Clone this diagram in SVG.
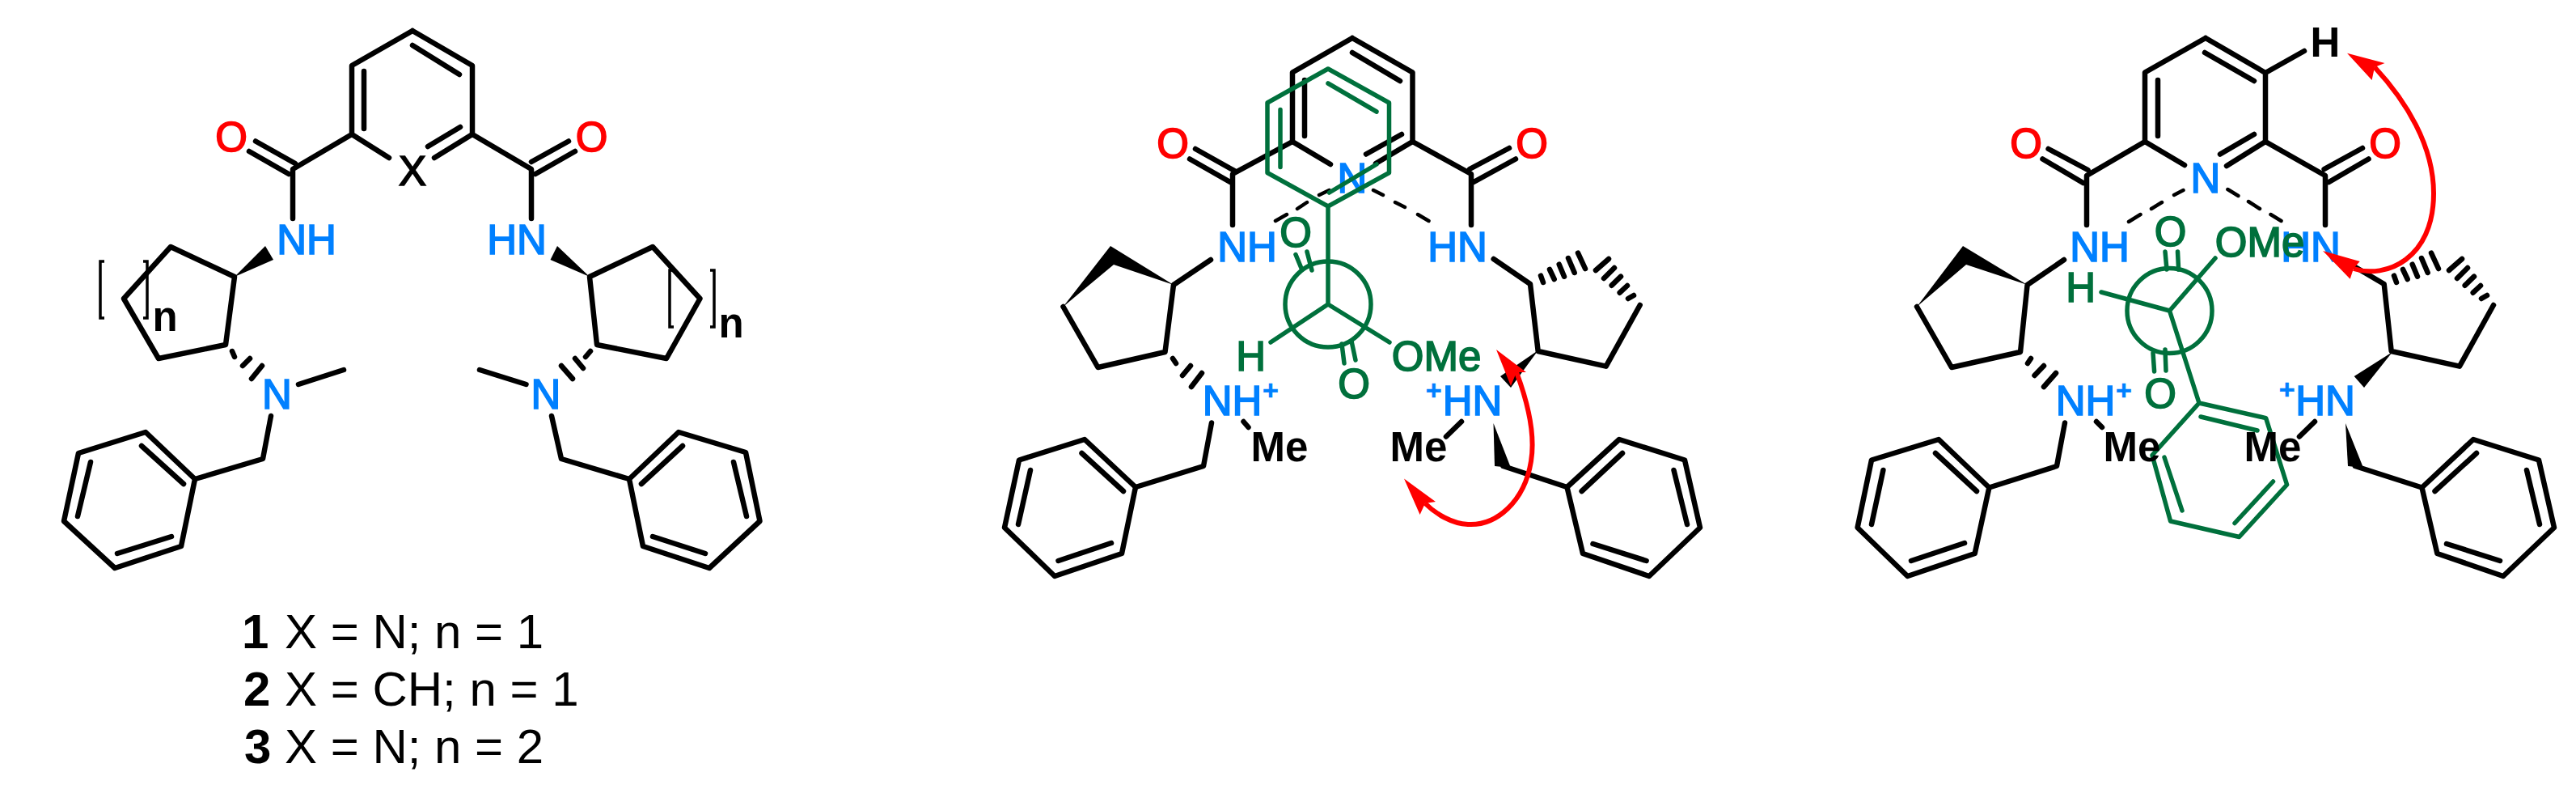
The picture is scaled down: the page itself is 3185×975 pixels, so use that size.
<svg xmlns="http://www.w3.org/2000/svg" width="3185" height="975" viewBox="0 0 3185 975">
<style>
text{font-family:"Liberation Sans",Arial,sans-serif;font-size:51px;text-anchor:middle}
.k{fill:none;stroke:#000;stroke-width:6.5;stroke-linecap:round;stroke-linejoin:round}
.d{fill:none;stroke:#000;stroke-width:4.5;stroke-linecap:round}
.g{fill:none;stroke:#00703C;stroke-width:5.5;stroke-linecap:round;stroke-linejoin:round}
.r{fill:none;stroke:#F00;stroke-width:6}
.w{fill:#000;stroke:none}
.rh{fill:#F00;stroke:none}
.tn{fill:#0080FF;stroke:#0080FF;stroke-width:1.7}
.to{fill:#F00;stroke:#F00;stroke-width:1.7}
.tg{fill:#00703C;stroke:#00703C;stroke-width:1.7}
.tk{fill:#000;font-weight:bold}
.tx{fill:#000;stroke:#000;stroke-width:1.7}
.pl{font-size:34px;font-weight:bold;stroke-width:.5}
.br{fill:none;stroke:#000;stroke-width:3.5}
.cap{font-size:60px;text-anchor:start;fill:#000}
</style>
<rect width="3185" height="975" fill="#fff"/>

<g id="compound-general">
<path class="k" d="M510,38L435,81L435,166L481,195M450,88L450,159M510,38L584,81L584,166L537,195M510,56L568,92M569,157L529,181M435,166L362,209L362,270M316,174.5L365,202M308,187L357,215M584,166L657,209L657,270M703,174.5L657,200M711,187L662,215"/>
<path class="w" d="M290,342L328,304L338,321Z"/>
<path class="k" d="M290,342L211,305L153,369L196,443L279,426Z"/>
<path class="k" d="M290,441L287,434M300,452L309,443M311,468L324,452M369,475L425,457M335,514L325,567L241,592"/>
<path class="k" d="M241,592L180,534L97,560L79,644L142,702L224,675ZM227,598L175,551M112,571L96,638M145,684L212,663"/>
<path class="w" d="M729,342L689,304L680.5,321Z"/>
<path class="k" d="M729,342L807,305L865.5,369L824,443L738,426Z"/>
<path class="k" d="M730,434L724,441M721,455L711,443M708,468L694,452M650.5,475L593,457M682,514L694,567L778,592"/>
<path class="k" d="M778,592L839,534L922,559L939.5,644L877,702L795,675ZM793,598L844,551M907,571L923,638M807,663L872,684"/>
<path class="br" d="M129,323H124V393H129M177,323H182V393H177M833,334H828V404H833M878,334H883V404H878"/>
<text class="to" x="286" y="187">O</text>
<text class="to" x="731.5" y="187">O</text>
<text class="tx" x="510" y="229">X</text>
<text class="tn" x="379" y="314">NH</text>
<text class="tn" x="639" y="314">HN</text>
<text class="tn" x="342.5" y="505">N</text>
<text class="tn" x="675" y="505">N</text>
<text class="tk" x="204" y="409">n</text>
<text class="tk" x="904" y="417">n</text>
</g>

<g id="caption">
<text class="cap" x="299" y="801"><tspan font-weight="bold">1</tspan><tspan x="352">X = N; n = 1</tspan></text>
<text class="cap" x="301" y="872"><tspan font-weight="bold">2</tspan><tspan x="352">X = CH; n = 1</tspan></text>
<text class="cap" x="302" y="943"><tspan font-weight="bold">3</tspan><tspan x="352">X = N; n = 2</tspan></text>
</g>

<g id="complex-left">
<path class="k" d="M1672,47L1598,89.5L1598,175L1645,203M1613,99L1613,168M1672,47L1746.5,89.5L1746.5,175L1701,202M1672,65L1731,100M1733,166L1689,190.5"/>
<path class="k" d="M1598,175L1524,215L1524,278M1478,184L1528,212M1471,196.5L1521,225M1746.5,175L1819,215L1819,278M1866,183L1817,209M1874,196.5L1822,225"/>
<path class="d" d="M1643.5,235L1631,241M1616,250L1604,258M1591,265L1577,273M1698,235L1710,241M1725,250L1737,256M1753,265L1766.5,273"/>
<path class="k" d="M1497,321L1451,352L1440.5,435L1357.5,454L1314.5,379M1454,449L1450,443M1462,464L1472,452M1473,478L1486,461M1537.5,521L1543.5,528M1498,522.5L1488,576L1404,602"/>
<path class="w" d="M1451,352L1373,304L1314.5,379L1377,327Z"/>
<path class="k" d="M1404,602L1341,543L1260,568.5L1242,652L1304,712L1387,684ZM1389,607L1337.5,560M1274,581L1259,648M1308.5,693L1374,671"/>
<path class="k" d="M1846.7,320L1892,351L1901.7,434L1985.7,452.7L2027.7,377M1905,340.7L1908,349M1916,333L1921.7,345M1927.7,326.7L1934,341.7M1939,319L1946.7,337M1951,312.7L1960,332M1989,320L1973,334M1996,331L1983,344M2004,341.7L1992.7,352.7M2012,353L2002.7,361.7M2020,365L2013,369"/>
<path class="w" d="M1901.7,433L1855,465L1868,479Z"/>
<path class="k" d="M1807,521L1788,539.5M1858.6,576L1937.5,602"/>
<path class="w" d="M1846.5,523L1848,576L1868,578Z"/>
<path class="k" d="M1937.5,602L2002,543L2083,568.5L2102,652L2039,712L1957,684ZM1955.6,607L2006,560M2069.5,581L2086,648M1969.5,672L2035.6,693"/>
<text class="to" x="1450" y="195">O</text>
<text class="to" x="1894" y="195">O</text>
<text class="tn" x="1672" y="238">N</text>
<text class="tn" x="1542" y="323">NH</text>
<text class="tn" x="1802" y="323">HN</text>
<text class="tn" x="1523.5" y="513">NH</text>
<text class="tn" x="1820.5" y="513">HN</text>
<text class="tn pl" x="1571" y="494">+</text>
<text class="tn pl" x="1772.6" y="494">+</text>
<text class="tk" x="1582" y="570">Me</text>
<text class="tk" x="1754" y="570">Me</text>
<g id="guest-left">
<path class="g" d="M1642,85L1567,127L1567,213.5L1642,255L1717.5,213.5L1717.5,127ZM1583,135.5L1583,206.6M1642,103L1702,138M1702,203L1643.5,238M1642,255L1642,376M1571,423L1642,376L1718,423M1602,314.5L1609,331.5M1616,311L1622,334M1659,425L1662,449M1671,421.5L1676,445"/>
<circle class="g" cx="1642" cy="376" r="53"/>
<text class="tg" x="1602" y="305">O</text>
<text class="tg" x="1546.6" y="458">H</text>
<text class="tg" x="1674" y="492">O</text>
<text class="tg" x="1776" y="458">OMe</text>
</g>
<path class="r" d="M1875,460C1890,500 1898,540 1893,570C1885,620 1850,650 1815,648C1795,647 1775,635 1762,622"/>
<path class="rh" d="M1850,432L1887,460L1875,460L1868,477ZM1736,591.5L1775,620L1762,622L1755.6,636Z"/>
</g>

<g id="complex-right">
<path class="k" d="M2727,47L2652,89.5L2652,175L2701,204M2668,99L2668,168M2727,47L2801,90L2801,175L2753,205M2726,65L2787,100M2787,166L2745,190.5M2801,90L2849,63"/>
<path class="k" d="M2652,175L2580,217L2580,278M2532.6,184L2581.5,210M2525.5,196.5L2575.6,226M2801,175L2875,217L2875,278M2921,183L2873.6,209M2928.5,196.5L2879.5,225"/>
<path class="d" d="M2699.5,235L2688,241M2673,250L2660,258M2646.5,265L2632,274M2754.4,234L2767.4,242M2780,249L2794,258M2807.5,265L2820.5,273"/>
<path class="k" d="M2552,321L2506.6,352L2498,435L2413,454L2370,379M2511,443L2507,449M2515.5,464L2527,452M2527,478L2542,461M2592,521L2599,528M2553,522.5L2543,576L2459.4,602.5"/>
<path class="w" d="M2506.6,352L2427,304L2370,379L2431,327Z"/>
<path class="k" d="M2459.4,602.5L2397,543L2314,568.5L2296.6,652L2358.5,712L2441.7,684ZM2444,607L2393,560M2328.4,581L2314,648M2363,693L2429,671"/>
<path class="k" d="M2912,330L2947.7,351L2956.7,434L3041,452.7L3083,377M2960,340.7L2963,349M2971,333L2976.7,345M2982.7,326.7L2989,341.7M2994,319L3001.7,337M3006,312.7L3015,332M3044,320L3028,334M3051,331L3038,344M3059,341.7L3047.7,352.7M3067,353L3057.7,361.7M3075,365L3068,369"/>
<path class="w" d="M2958,435L2910.7,465L2923,479Z"/>
<path class="k" d="M2862,521L2843,539.5M2912,576L2994.5,602.5"/>
<path class="w" d="M2900,523L2903,576L2922,578Z"/>
<path class="k" d="M2994.5,602.5L3058,543L3139,568.5L3158,652L3095,712L3013.4,684ZM3010.5,607L3062,560M3124,581L3140,648M3025,672L3091,693"/>
<text class="to" x="2505" y="195">O</text>
<text class="to" x="2949" y="195">O</text>
<text class="tn" x="2727" y="238">N</text>
<text class="tn" x="2596" y="323">NH</text>
<text class="tn" x="2857" y="323">HN</text>
<text class="tn" x="2578.6" y="513">NH</text>
<text class="tn" x="2875" y="513">HN</text>
<text class="tn pl" x="2626" y="494">+</text>
<text class="tn pl" x="2827.6" y="493">+</text>
<text class="tk" x="2875" y="69.5">H</text>
<g id="guest-right">
<path class="g" d="M2719,498L2801.6,516.6L2827.6,599L2768.6,663.5L2683.6,644L2661,562.5ZM2721,515L2791,532M2810.5,595L2763,646.5M2698,631L2676,565M2598,361L2682.5,384L2739,319M2682.5,384L2719,498M2677,311L2679,333M2692.5,311L2693.6,333M2662,436L2663.6,459M2677,432L2678,458"/>
<circle class="g" cx="2682.5" cy="384" r="52.5"/>
<text class="tg" x="2683.6" y="303.6">O</text>
<text class="tg" x="2572.7" y="372.5">H</text>
<text class="tg" x="2794" y="316.5">OMe</text>
<text class="tg" x="2671" y="504">O</text>
</g>
<text class="tk" x="2636" y="570">Me</text>
<text class="tk" x="2810" y="570">Me</text>
<path class="r" d="M2910,332C2950,345 3009,320 3009,239C3009,180 2975,125 2936,83"/>
<path class="rh" d="M2902,65.7L2948.5,78L2936,83L2932.6,99ZM2872,310L2917.7,323L2910,331.7L2905.7,344.7Z"/>
</g>
</svg>
